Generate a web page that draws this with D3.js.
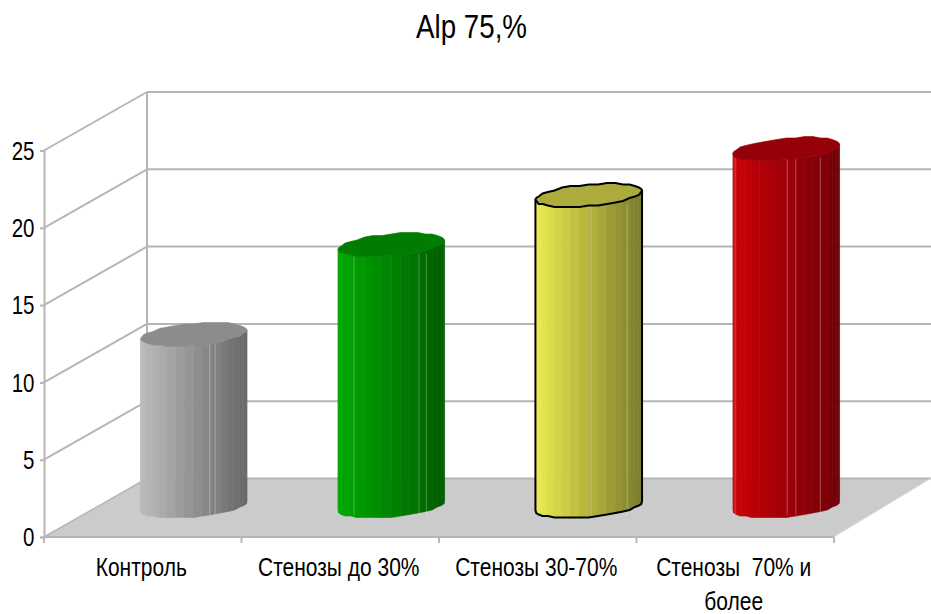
<!DOCTYPE html>
<html>
<head>
<meta charset="utf-8">
<script src="https://cdn.jsdelivr.net/npm/d3@7/dist/d3.min.js"></script>
<style>
html,body{margin:0;padding:0;background:#fff}
text{font-family:"Liberation Sans",Arial,sans-serif;fill:#000}
</style>
</head>
<body>
<svg id="chart" width="931" height="614"></svg>
<script>
const titleText = "Alp 75,%";
const categories = ["Контроль", "Стенозы до 30%", "Стенозы 30-70%", "Стенозы  70% и|более"];
const values = [11.1, 16.9, 20.1, 23.1];
const yTicks = [0, 5, 10, 15, 20, 25];
const lightColors = ["#bcbcbc", "#00aa00", "#ecec50", "#cc0008"];
const darkColors = ["#686868", "#005c00", "#7c7c2c", "#700006"];
const capColors = ["#8c8c8c", "#007c00", "#acac3c", "#960008"];
const outlineColors = [null, null, "#000", null];
const seamFractions = [[0.65, 0.7], [0.15, 0.76, 0.83], [0.52, 0.86], [0.02, 0.51, 0.59, 0.82]];

const svg = d3.select("#chart");
const narrow = 0.82;
const labelNarrow = 0.84;

// Front plane of the box and the shift to its back plane
const x = d3.scaleBand().domain(categories).range([44, 834]);
const y = d3.scaleLinear().domain([0, 25]).range([537, 150.5]);
const depth = {dx: 103, dy: -58.5};
const rightEdge = 931;

// Columns stand mid-way in the box
const mid = {dx: 51, dy: -31};
const radius = {a: 49, b: 21, c: 11.8};
const halfWidth = Math.hypot(radius.a, radius.b);
const facetCount = 18;

// Floor
svg.append("polygon")
  .attr("points", [
    [x.range()[0], y(0)],
    [x.range()[0] + depth.dx, y(0) + depth.dy],
    [rightEdge, y(0) + depth.dy],
    [x.range()[1], y(0)]
  ].join(" "))
  .attr("fill", "#cbcbcb");

// Wall gridlines with their diagonals on the side wall
const grid = svg.append("g").attr("stroke", "#b6b6b6").attr("stroke-width", 2).attr("fill", "none");
yTicks.forEach(t => {
  grid.append("line")
    .attr("x1", x.range()[0]).attr("y1", y(t))
    .attr("x2", x.range()[0] + depth.dx).attr("y2", y(t) + depth.dy)
    .attr("stroke-width", t === 0 ? 1.5 : 2);
  grid.append("line")
    .attr("x1", x.range()[0] + depth.dx).attr("y1", y(t) + depth.dy)
    .attr("x2", rightEdge).attr("y2", y(t) + depth.dy);
});
grid.append("line")
  .attr("x1", x.range()[0] + depth.dx).attr("y1", y(0) + depth.dy)
  .attr("x2", x.range()[0] + depth.dx).attr("y2", y(25) + depth.dy);
grid.append("line")
  .attr("x1", x.range()[1]).attr("y1", y(0))
  .attr("x2", rightEdge).attr("y2", y(0) + depth.dy)
  .attr("stroke", "#e4e4e4").attr("stroke-width", 1);

// Value axis on the front-left edge
const yAxis = svg.append("g")
  .attr("transform", `translate(${x.range()[0]},0)`)
  .call(d3.axisLeft(y).tickValues(yTicks).tickSize(4).tickPadding(4));
yAxis.select(".domain").attr("stroke", "#b6b6b6").attr("stroke-width", 2);
yAxis.selectAll("line").attr("stroke", "#b6b6b6").attr("stroke-width", 2);
yAxis.selectAll("text")
  .attr("font-size", 25)
  .attr("font-family", '"Liberation Sans"')
  .attr("x", -9.5 / narrow)
  .attr("dy", "0.35em")
  .attr("transform", `scale(${narrow},1)`);

// Category axis along the front of the floor
const xAxis = svg.append("g").attr("transform", `translate(0,${y(0)})`);
xAxis.append("line")
  .attr("x1", x.range()[0]).attr("x2", x.range()[1])
  .attr("stroke", "#b6b6b6").attr("stroke-width", 2);
const tickXs = categories.map(c => x(c)).concat(x.range()[1]);
xAxis.selectAll("line.tick").data(tickXs).join("line")
  .attr("class", "tick")
  .attr("x1", d => d).attr("x2", d => d)
  .attr("y1", 0).attr("y2", 6)
  .attr("stroke", "#b6b6b6").attr("stroke-width", 2);
categories.forEach(c => {
  const cxLabel = x(c) + x.bandwidth() / 2 - 1.5;
  c.split("|").forEach((part, i) => {
    xAxis.append("text")
      .attr("transform", `translate(${cxLabel},${38.5 + i * 34.5}) scale(${labelNarrow},1)`)
      .attr("text-anchor", "middle")
      .attr("font-size", 25)
      .style("white-space", "pre")
      .text(part);
  });
});

// Outline of a column's round section, with slightly lumpy edges
const phi = Math.atan2(radius.b, radius.a);
function ringPoint(cx, cy, t) {
  const px = cx + radius.a * Math.cos(t) + radius.b * Math.sin(t);
  const py = cy - radius.c * Math.sin(t);
  return [px, Math.round(py / 1.5) * 1.5];
}
const frontAngles = d3.range(facetCount + 1).map(i => Math.PI + phi + Math.PI * i / facetCount);
const ringAngles = d3.range(36).map(i => 2 * Math.PI * i / 36 + phi);
const line = d3.line();

categories.forEach((c, i) => {
  const cx = x(c) + x.bandwidth() / 2 + mid.dx;
  const baseY = y(0) + mid.dy;
  const topY = y(values[i]) + mid.dy;
  const g = svg.append("g");
  const shade = d3.interpolateRgb(lightColors[i], darkColors[i]);

  // Shaded facets of the body
  for (let k = 0; k < facetCount; k++) {
    const a0 = frontAngles[k], a1 = frontAngles[k + 1];
    const p0 = ringPoint(cx, topY, a0), p1 = ringPoint(cx, topY, a1);
    const q0 = ringPoint(cx, baseY, a0), q1 = ringPoint(cx, baseY, a1);
    const col = shade((((p0[0] + p1[0]) / 2) - (cx - halfWidth)) / (2 * halfWidth));
    g.append("path")
      .attr("d", line([p0, p1, q1, q0]) + "Z")
      .attr("fill", col).attr("stroke", col).attr("stroke-width", 0.6);
  }

  // Pale seams running down the body
  seamFractions[i].forEach(f => {
    const sx = cx - halfWidth + 2 * halfWidth * f;
    g.append("line")
      .attr("x1", sx).attr("x2", sx)
      .attr("y1", topY + 9).attr("y2", baseY + 9)
      .attr("stroke", "#fff").attr("stroke-opacity", 0.28).attr("stroke-width", 1);
  });

  // Black outline for outlined columns
  if (outlineColors[i]) {
    const outline = frontAngles.map(t => ringPoint(cx, baseY, t));
    const l = ringPoint(cx, topY, frontAngles[0]);
    const r = ringPoint(cx, topY, frontAngles[facetCount]);
    g.append("path")
      .attr("d", line([l, ...outline, r]))
      .attr("fill", "none").attr("stroke", outlineColors[i]).attr("stroke-width", 2);
  }

  // Cap
  g.append("path")
    .attr("d", line(ringAngles.map(t => ringPoint(cx, topY, t))) + "Z")
    .attr("fill", capColors[i])
    .attr("stroke", outlineColors[i] || capColors[i])
    .attr("stroke-width", outlineColors[i] ? 2 : 0.6);
});

// Title
svg.append("text")
  .attr("transform", `translate(471.5,38) scale(0.84,1)`)
  .attr("text-anchor", "middle")
  .attr("font-size", 33)
  .text(titleText);
</script>
</body>
</html>
